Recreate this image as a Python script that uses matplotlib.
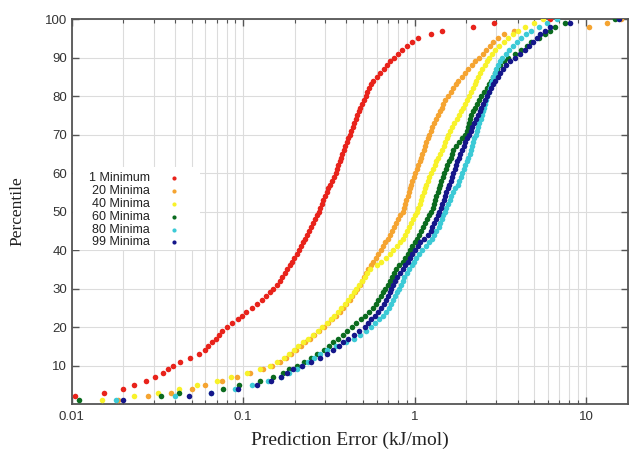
import numpy as np
import matplotlib
matplotlib.use("Agg")
import matplotlib.pyplot as plt
from matplotlib.ticker import LogLocator, FuncFormatter, NullFormatter

# ---------------------------------------------------------
# DATA: sorted prediction errors (kJ/mol) per number of minima
# percentile of each point = its rank in the sorted list
# ---------------------------------------------------------

labels = ["1 Minimum", "20 Minima", "40 Minima", "60 Minima", "80 Minima", "99 Minima"]
colors = ["#e8231b", "#f5a431", "#f8f22a", "#0b6b1f", "#3ccad6", "#15168a"]

err_1 = [
    0.0095, 0.0104, 0.0155, 0.0200, 0.0232, 0.0270, 0.0305, 0.0340, 0.0365, 0.0390,
    0.0430, 0.0490, 0.0550, 0.0595, 0.0625, 0.0660, 0.0690, 0.0720, 0.0750, 0.0800,
    0.0860, 0.0930, 0.0990, 0.1040, 0.1120, 0.1200, 0.1280, 0.1350, 0.1430, 0.1500,
    0.1570, 0.1630, 0.1690, 0.1750, 0.1810, 0.1870, 0.1930, 0.1990, 0.2050, 0.2110,
    0.2180, 0.2240, 0.2300, 0.2360, 0.2420, 0.2480, 0.2550, 0.2620, 0.2680, 0.2750,
    0.2810, 0.2880, 0.2940, 0.3000, 0.3070, 0.3140, 0.3220, 0.3300, 0.3380, 0.3460,
    0.3520, 0.3580, 0.3650, 0.3720, 0.3790, 0.3860, 0.3930, 0.4010, 0.4100, 0.4200,
    0.4280, 0.4360, 0.4440, 0.4520, 0.4620, 0.4720, 0.4820, 0.4940, 0.5060, 0.5180,
    0.5300, 0.5420, 0.5560, 0.5750, 0.6000, 0.6300, 0.6600, 0.6900, 0.7200, 0.7600,
    0.8000, 0.8450, 0.9000, 0.9600, 1.0500, 1.2500, 1.4500, 2.2000, 2.9000, 6.2000,
]

err_20 = [
    0.0185, 0.0280, 0.0380, 0.0500, 0.0600, 0.0750, 0.0920, 0.1100, 0.1300, 0.1480,
    0.1630, 0.1770, 0.1900, 0.2030, 0.2160, 0.2290, 0.2440, 0.2600, 0.2770, 0.2950,
    0.3130, 0.3310, 0.3480, 0.3650, 0.3820, 0.4000, 0.4170, 0.4330, 0.4480, 0.4630,
    0.4780, 0.4930, 0.5080, 0.5220, 0.5380, 0.5550, 0.5750, 0.5950, 0.6150, 0.6350,
    0.6550, 0.6750, 0.6950, 0.7150, 0.7350, 0.7550, 0.7750, 0.8000, 0.8250, 0.8500,
    0.8650, 0.8800, 0.8950, 0.9100, 0.9250, 0.9400, 0.9550, 0.9700, 0.9900, 1.0100,
    1.0300, 1.0500, 1.0700, 1.0900, 1.1100, 1.1300, 1.1500, 1.1700, 1.1950, 1.2200,
    1.2400, 1.2650, 1.2950, 1.3300, 1.3650, 1.4000, 1.4350, 1.4700, 1.5100, 1.5600,
    1.6200, 1.6800, 1.7400, 1.8000, 1.8800, 1.9600, 2.0600, 2.1600, 2.2600, 2.3800,
    2.5000, 2.6200, 2.7500, 2.8800, 3.0500, 3.3000, 3.8000, 10.400, 13.200, 16.000,
]

err_40 = [
    0.0150, 0.0230, 0.0320, 0.0420, 0.0540, 0.0700, 0.0850, 0.1050, 0.1250, 0.1430,
    0.1580, 0.1720, 0.1850, 0.1980, 0.2100, 0.2220, 0.2380, 0.2550, 0.2720, 0.2900,
    0.3080, 0.3250, 0.3400, 0.3550, 0.3720, 0.3900, 0.4080, 0.4250, 0.4420, 0.4580,
    0.4750, 0.4920, 0.5100, 0.5300, 0.5500, 0.6000, 0.6400, 0.6800, 0.7150, 0.7500,
    0.7850, 0.8200, 0.8500, 0.8800, 0.9050, 0.9300, 0.9550, 0.9800, 1.0050, 1.0300,
    1.0500, 1.0700, 1.0900, 1.1100, 1.1300, 1.1500, 1.1700, 1.1950, 1.2200, 1.2500,
    1.2800, 1.3100, 1.3400, 1.3700, 1.4000, 1.4400, 1.4800, 1.5100, 1.5400, 1.5700,
    1.6000, 1.6500, 1.7000, 1.7600, 1.8200, 1.8700, 1.9200, 1.9700, 2.0200, 2.0800,
    2.1400, 2.1900, 2.2400, 2.2900, 2.3400, 2.4000, 2.4800, 2.5600, 2.6400, 2.7200,
    2.8200, 2.9500, 3.1000, 3.3000, 3.5000, 3.7500, 4.0000, 4.4000, 5.0000, 5.6000,
]

err_60 = [
    0.0110, 0.0330, 0.0420, 0.0760, 0.0950, 0.1250, 0.1500, 0.1700, 0.1850, 0.2050,
    0.2250, 0.2480, 0.2700, 0.2950, 0.3150, 0.3350, 0.3550, 0.3800, 0.4050, 0.4300,
    0.4550, 0.4850, 0.5150, 0.5450, 0.5700, 0.5950, 0.6150, 0.6350, 0.6550, 0.6750,
    0.6950, 0.7150, 0.7350, 0.7550, 0.7800, 0.8100, 0.8500, 0.8800, 0.9100, 0.9400,
    0.9700, 1.0000, 1.0300, 1.0600, 1.0900, 1.1200, 1.1500, 1.1800, 1.2200, 1.2500,
    1.2750, 1.3000, 1.3200, 1.3400, 1.3600, 1.3800, 1.4000, 1.4300, 1.4600, 1.4900,
    1.5200, 1.5500, 1.5800, 1.6200, 1.6500, 1.6800, 1.7400, 1.8200, 1.9000, 1.9700,
    2.0200, 2.0500, 2.0800, 2.1000, 2.1200, 2.1800, 2.2400, 2.3000, 2.3700, 2.4500,
    2.5500, 2.6500, 2.7300, 2.8000, 2.8700, 2.9400, 3.0200, 3.1500, 3.3000, 3.5000,
    3.8500, 4.2000, 4.5000, 4.8000, 5.3000, 5.8000, 6.2000, 6.6000, 7.5000, 14.800,
]

err_80 = [
    0.0180, 0.0400, 0.0650, 0.0900, 0.1120, 0.1400, 0.1650, 0.1850, 0.2050, 0.2200,
    0.2400, 0.2600, 0.2800, 0.3100, 0.3500, 0.4000, 0.4400, 0.4800, 0.5200, 0.5600,
    0.5900, 0.6200, 0.6500, 0.6800, 0.7100, 0.7300, 0.7500, 0.7700, 0.7900, 0.8100,
    0.8300, 0.8500, 0.8700, 0.9000, 0.9300, 0.9600, 0.9900, 1.0200, 1.0600, 1.1000,
    1.1600, 1.2200, 1.2600, 1.3000, 1.3400, 1.3800, 1.4100, 1.4400, 1.4700, 1.5000,
    1.5300, 1.5600, 1.6000, 1.6400, 1.6800, 1.7300, 1.7800, 1.8200, 1.8600, 1.9000,
    1.9400, 1.9800, 2.0200, 2.0600, 2.1000, 2.1300, 2.1600, 2.1900, 2.2300, 2.2700,
    2.3100, 2.3500, 2.3900, 2.4300, 2.4700, 2.5000, 2.5400, 2.5800, 2.6200, 2.6600,
    2.7000, 2.7400, 2.7800, 2.8300, 2.8800, 2.9400, 3.0000, 3.0700, 3.1500, 3.2500,
    3.4000, 3.5500, 3.7500, 3.9500, 4.2000, 4.4500, 4.8000, 5.3000, 5.9000, 6.8000,
]

err_99 = [
    0.0200, 0.0480, 0.0650, 0.0930, 0.1200, 0.1450, 0.1650, 0.1800, 0.1950, 0.2200,
    0.2500, 0.2800, 0.3100, 0.3350, 0.3600, 0.3800, 0.4100, 0.4400, 0.4750, 0.5100,
    0.5350, 0.5600, 0.5850, 0.6100, 0.6350, 0.6600, 0.6800, 0.7000, 0.7150, 0.7300,
    0.7450, 0.7650, 0.7900, 0.8200, 0.8500, 0.8800, 0.9100, 0.9400, 0.9700, 1.0000,
    1.0400, 1.0800, 1.1300, 1.1900, 1.2400, 1.2700, 1.3000, 1.3300, 1.3600, 1.3900,
    1.4200, 1.4500, 1.4800, 1.5000, 1.5300, 1.5600, 1.5900, 1.6200, 1.6500, 1.6800,
    1.7100, 1.7400, 1.7700, 1.8100, 1.8500, 1.8900, 1.9300, 1.9700, 2.0200, 2.0700,
    2.1200, 2.1700, 2.2300, 2.2900, 2.3500, 2.4000, 2.4500, 2.5000, 2.5600, 2.6300,
    2.7000, 2.7800, 2.8600, 2.9500, 3.0500, 3.1500, 3.2800, 3.4200, 3.6000, 3.8500,
    4.1000, 4.4000, 4.6500, 4.9000, 5.1500, 5.4000, 5.8000, 6.2000, 8.1000, 15.500,
]

series = [err_1, err_20, err_40, err_60, err_80, err_99]

# ---------------------------------------------------------
# FIGURE
# ---------------------------------------------------------

fig = plt.figure(figsize=(6.3, 4.53), dpi=100)
ax = fig.add_axes([0.114, 0.108, 0.883, 0.850])

for errs, col in zip(series, colors):
    e = np.sort(np.array(errs))
    pct = 100.0 * np.arange(1, len(e) + 1) / len(e)
    ax.plot(e, pct, "o", color=col, ms=4, mew=0, zorder=3)

ax.set_xscale("log")
ax.set_xlim(0.01, 17.6)
ax.set_ylim(0, 100)

ax.xaxis.set_major_locator(LogLocator(base=10, numticks=10))
ax.xaxis.set_minor_locator(LogLocator(base=10, subs=np.arange(2, 10), numticks=20))
ax.xaxis.set_major_formatter(FuncFormatter(lambda v, _: "%g" % v))
ax.xaxis.set_minor_formatter(NullFormatter())
ax.set_yticks(np.arange(10, 101, 10))

ax.grid(True, which="both", axis="x", color="#dcdcdc", lw=0.8)
ax.grid(True, which="major", axis="y", color="#dcdcdc", lw=0.8)
ax.set_axisbelow(True)

ax.tick_params(which="both", direction="in", top=True, right=True,
               colors="#555555", labelcolor="#333333", labelsize=9.5)
ax.tick_params(which="major", length=5, width=1)
ax.tick_params(which="minor", length=3, width=0.8)
ax.tick_params(axis="x", pad=5)
for s in ax.spines.values():
    s.set_color("#555555")
    s.set_linewidth(1.3)

for lab in ax.get_xticklabels() + ax.get_yticklabels():
    lab.set_family("Liberation Sans")

ax.set_xlabel("Prediction Error (kJ/mol)", family="Liberation Serif",
              fontsize=14, color="#222222", labelpad=6)
ax.set_ylabel("Percentile", family="Liberation Serif",
              fontsize=12.5, color="#222222", labelpad=14)

# ---------------------------------------------------------
# LEGEND (text right aligned, marker after the text)
# ---------------------------------------------------------

ax.add_patch(plt.Rectangle((0.003, 0.40), 0.227, 0.215, transform=ax.transAxes,
                           facecolor="white", edgecolor="none", zorder=2))
rows = [0.587, 0.553, 0.519, 0.486, 0.452, 0.421]
for lab, col, yy in zip(labels, colors, rows):
    ax.text(0.140, yy, lab, transform=ax.transAxes, ha="right", va="center",
            fontsize=9, family="Liberation Sans", color="#222222", zorder=4)
    ax.plot([0.183], [yy], "o", transform=ax.transAxes, color=col, ms=3,
            mew=0, zorder=4, clip_on=False)

fig.savefig("out.png", dpi=100)
